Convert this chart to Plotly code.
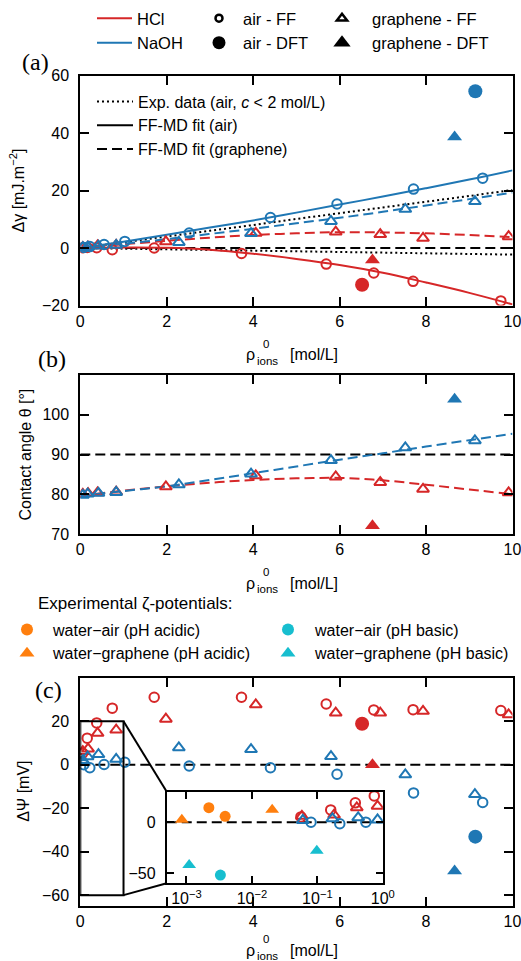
import plotly.graph_objects as go
import math

W, H = 521, 961
RED, BLUE, ORANGE, CYAN, BLACK = '#d62728', '#1f77b4', '#ff7f0e', '#17becf', '#000000'
SANS = 'Liberation Sans, Arial, Helvetica, sans-serif'
SERIF = 'Liberation Serif, Times New Roman, serif'

# ---------------- axes ----------------
X_RANGE = [0, 10]
X_TICKS = [0, 2, 4, 6, 8, 10]
A_RANGE, A_TICKS = [-20, 60], [-20, 0, 20, 40, 60]
B_RANGE, B_TICKS = [70, 110], [70, 80, 90, 100]
C_RANGE, C_TICKS = [-65, 40], [-60, -40, -20, 0, 20]
IN_X_RANGE = [5e-4, 1.0]
IN_Y_RANGE = [-60, 30]
IN_X_TICKS = [1e-3, 1e-2, 1e-1, 1.0]
IN_X_TICKTEXT = ['10<sup>−3</sup>', '10<sup>−2</sup>', '10<sup>−1</sup>', '10<sup>0</sup>']
IN_Y_TICKS = [-50, 0]
ZOOM_X = [0, 1]
ZOOM_Y = [-60, 20]
INSET_FRAC_X = [0.2, 0.7]
INSET_FRAC_Y = [0.1, 0.5]

# ---------------- FF-MD concentrations ----------------
hcl_air_x = [0.056, 0.16, 0.38, 0.74, 1.71, 3.73, 5.69, 6.79, 7.70, 9.73]
hcl_gr_x = [0.058, 0.18, 0.40, 0.83, 1.98, 4.06, 5.91, 6.94, 7.93, 9.91]
naoh_air_x = [0.08, 0.22, 0.55, 1.03, 2.52, 4.40, 5.94, 7.71, 9.31]
naoh_gr_x = [0.06, 0.17, 0.42, 0.83, 2.28, 3.95, 5.80, 7.52, 9.13]

# (a) surface tension change
a_hcl_air = [0.1, 0.2, 0.1, -0.6, 0.0, -1.9, -5.6, -8.7, -11.6, -18.4]
a_hcl_gr = [0.2, 0.4, 0.8, 1.0, 2.2, 5.2, 5.6, 4.7, 3.4, 4.0]
a_naoh_air = [0.2, 0.5, 1.2, 2.3, 5.2, 10.6, 15.3, 20.5, 24.3]
a_naoh_gr = [0.2, 0.4, 0.7, 1.0, 2.0, 5.1, 9.3, 13.5, 16.2]
# (b) contact angle
b_hcl_gr = [80.0, 80.2, 80.4, 80.6, 81.9, 84.7, 84.4, 83.0, 81.3, 80.4]
b_naoh_gr = [79.8, 80.1, 80.3, 80.5, 82.4, 85.1, 88.5, 91.7, 93.5]
# (c) potential
c_hcl_air = [5.3, 12.2, 19.2, 26.0, 31.0, 31.0, 27.9, 25.2, 25.3, 24.9]
c_hcl_gr = [6.1, 7.3, 14.5, 16.0, 21.0, 27.6, 23.8, 23.8, 24.6, 23.0]
c_naoh_air = [0.0, -1.4, 0.1, 1.1, -0.6, -1.4, -4.4, -13.0, -17.4]
c_naoh_gr = [2.0, 3.7, 4.7, 2.5, 7.8, 7.0, 3.8, -4.6, -13.7]

# ---------------- DFT ----------------
hcl_dft_air_x, hcl_dft_gr_x = [6.52], [6.76]
naoh_dft_air_x, naoh_dft_gr_x = [9.14], [8.66]
a_hcl_dft_air, a_hcl_dft_gr = [-12.8], [-4.2]
a_naoh_dft_air, a_naoh_dft_gr = [54.5], [38.6]
b_hcl_dft_gr, b_naoh_dft_gr = [72.1], [103.9]
c_hcl_dft_air, c_hcl_dft_gr = [18.8], [0.0]
c_naoh_dft_air, c_naoh_dft_gr = [-33.1], [-48.9]

# ---------------- fits / experimental curves ----------------
fit_x = [0, 1, 2, 3, 4, 5, 6, 7, 8, 9, 10]
a_fit_hcl_air = [0, 0.2, 0.1, -0.6, -2.0, -3.8, -5.9, -8.6, -12.0, -15.6, -19.6]
a_fit_hcl_gr = [0, 1.3, 2.5, 3.6, 4.5, 5.1, 5.5, 5.4, 5.1, 4.5, 3.8]
a_fit_naoh_air = [0, 2.2, 4.6, 7.1, 9.6, 12.3, 15.1, 17.9, 20.8, 23.8, 27.0]
a_fit_naoh_gr = [0, 1.5, 3.1, 4.9, 6.7, 8.6, 10.5, 12.6, 14.8, 17.0, 19.3]
a_exp_naoh = [0, 2.0, 4.0, 6.0, 8.0, 10.1, 12.1, 14.1, 16.1, 18.1, 20.2]
a_exp_hcl = [0, -0.23, -0.46, -0.69, -0.92, -1.15, -1.38, -1.61, -1.84, -2.07, -2.3]
b_fit_hcl_gr = [79.6, 80.9, 82.0, 82.9, 83.6, 84.0, 84.1, 83.5, 82.4, 81.2, 80.0]
b_fit_naoh_gr = [79.6, 80.8, 82.0, 83.6, 85.3, 87.0, 88.7, 90.3, 92.0, 93.6, 95.2]
A_REF, B_REF, C_REF = 0, 90, 0

# ---------------- experimental zeta potentials (inset) ----------------
zeta_air_acid_x, zeta_air_acid_y = [2.2e-3, 3.9e-3], [14.4, 5.9]
zeta_gr_acid_x, zeta_gr_acid_y = [8.5e-4, 2.04e-2], [2.6, 12.4]
zeta_air_base_x, zeta_air_base_y = [3.3e-3], [-52.0]
zeta_gr_base_x, zeta_gr_base_y = [1.1e-3, 9.8e-2], [-42.0, -28.0]

# ---------------- layout geometry ----------------
def ydom(top_px, bot_px):
    return [1 - bot_px / H, 1 - top_px / H]

XDOM = [80.3 / W, 512.5 / W]
A_DOM = ydom(75.5, 305.5)
B_DOM = ydom(375, 534)
C_DOM = ydom(677.7, 906)
xw = XDOM[1] - XDOM[0]
ch = C_DOM[1] - C_DOM[0]
IN_XDOM = [XDOM[0] + INSET_FRAC_X[0] * xw, XDOM[0] + INSET_FRAC_X[1] * xw]
IN_YDOM = [C_DOM[0] + INSET_FRAC_Y[0] * ch, C_DOM[0] + INSET_FRAC_Y[1] * ch]

fig = go.Figure()

DASH = '10px,5px'
DOT = '2px,3px'


def add_line(x, y, color, dash, xa, ya):
    fig.add_trace(go.Scatter(x=x, y=y, mode='lines', xaxis=xa, yaxis=ya, showlegend=False,
                             hoverinfo='skip', line=dict(color=color, width=2, dash=dash, shape='spline')))


def add_pts(x, y, color, symbol, size, xa, ya, lw=2):
    fig.add_trace(go.Scatter(x=x, y=y, mode='markers', xaxis=xa, yaxis=ya, showlegend=False,
                             hoverinfo='skip',
                             marker=dict(symbol=symbol, size=size, color=color,
                                         line=dict(width=lw if symbol.endswith('open') else 0, color=color))))

OC, OT, FC, FT = 9.5, 10.5, 14, 13

# ---- panel (a) ----
add_line(X_RANGE, [A_REF, A_REF], BLACK, DASH, 'x', 'y')
add_line(fit_x, a_exp_naoh, BLACK, DOT, 'x', 'y')
add_line(fit_x, a_exp_hcl, BLACK, DOT, 'x', 'y')
add_line(fit_x, a_fit_hcl_air, RED, 'solid', 'x', 'y')
add_line(fit_x, a_fit_naoh_air, BLUE, 'solid', 'x', 'y')
add_line(fit_x, a_fit_hcl_gr, RED, DASH, 'x', 'y')
add_line(fit_x, a_fit_naoh_gr, BLUE, DASH, 'x', 'y')
add_pts(hcl_air_x, a_hcl_air, RED, 'circle-open', OC, 'x', 'y')
add_pts(hcl_gr_x, a_hcl_gr, RED, 'triangle-up-open', OT, 'x', 'y')
add_pts(naoh_air_x, a_naoh_air, BLUE, 'circle-open', OC, 'x', 'y')
add_pts(naoh_gr_x, a_naoh_gr, BLUE, 'triangle-up-open', OT, 'x', 'y')
add_pts(hcl_dft_air_x, a_hcl_dft_air, RED, 'circle', FC, 'x', 'y')
add_pts(hcl_dft_gr_x, a_hcl_dft_gr, RED, 'triangle-up', FT, 'x', 'y')
add_pts(naoh_dft_air_x, a_naoh_dft_air, BLUE, 'circle', FC, 'x', 'y')
add_pts(naoh_dft_gr_x, a_naoh_dft_gr, BLUE, 'triangle-up', FT, 'x', 'y')

# ---- panel (b) ----
add_line(X_RANGE, [B_REF, B_REF], BLACK, DASH, 'x2', 'y2')
add_line(fit_x, b_fit_hcl_gr, RED, DASH, 'x2', 'y2')
add_line(fit_x, b_fit_naoh_gr, BLUE, DASH, 'x2', 'y2')
add_pts(hcl_gr_x, b_hcl_gr, RED, 'triangle-up-open', OT, 'x2', 'y2')
add_pts(naoh_gr_x, b_naoh_gr, BLUE, 'triangle-up-open', OT, 'x2', 'y2')
add_pts(hcl_dft_gr_x, b_hcl_dft_gr, RED, 'triangle-up', FT, 'x2', 'y2')
add_pts(naoh_dft_gr_x, b_naoh_dft_gr, BLUE, 'triangle-up', FT, 'x2', 'y2')

# ---- panel (c) ----
add_line(X_RANGE, [C_REF, C_REF], BLACK, DASH, 'x3', 'y3')
add_pts(hcl_air_x, c_hcl_air, RED, 'circle-open', OC, 'x3', 'y3')
add_pts(hcl_gr_x, c_hcl_gr, RED, 'triangle-up-open', OT, 'x3', 'y3')
add_pts(naoh_air_x, c_naoh_air, BLUE, 'circle-open', OC, 'x3', 'y3')
add_pts(naoh_gr_x, c_naoh_gr, BLUE, 'triangle-up-open', OT, 'x3', 'y3')
add_pts(hcl_dft_air_x, c_hcl_dft_air, RED, 'circle', FC, 'x3', 'y3')
add_pts(hcl_dft_gr_x, c_hcl_dft_gr, RED, 'triangle-up', FT, 'x3', 'y3')
add_pts(naoh_dft_air_x, c_naoh_dft_air, BLUE, 'circle', FC, 'x3', 'y3')
add_pts(naoh_dft_gr_x, c_naoh_dft_gr, BLUE, 'triangle-up', FT, 'x3', 'y3')

# ---- inset (log scale, low concentrations) ----
def low(xs, ys):
    sel = [(a, b) for a, b in zip(xs, ys) if a <= IN_X_RANGE[1]]
    return [a for a, _ in sel], [b for _, b in sel]

add_line(IN_X_RANGE, [C_REF, C_REF], BLACK, DASH, 'x4', 'y4')
add_pts(*low(hcl_air_x, c_hcl_air), RED, 'circle-open', OC, 'x4', 'y4')
add_pts(*low(hcl_gr_x, c_hcl_gr), RED, 'triangle-up-open', OT, 'x4', 'y4')
add_pts(*low(naoh_air_x, c_naoh_air), BLUE, 'circle-open', OC, 'x4', 'y4')
add_pts(*low(naoh_gr_x, c_naoh_gr), BLUE, 'triangle-up-open', OT, 'x4', 'y4')
add_pts(zeta_air_acid_x, zeta_air_acid_y, ORANGE, 'circle', 11, 'x4', 'y4')
add_pts(zeta_gr_acid_x, zeta_gr_acid_y, ORANGE, 'triangle-up', 12, 'x4', 'y4')
add_pts(zeta_air_base_x, zeta_air_base_y, CYAN, 'circle', 11, 'x4', 'y4')
add_pts(zeta_gr_base_x, zeta_gr_base_y, CYAN, 'triangle-up', 12, 'x4', 'y4')

# ---------------- legend-only entries ----------------
def leg_line(name, color, dash, legend):
    fig.add_trace(go.Scatter(x=[None], y=[None], mode='lines', name=name, legend=legend,
                             line=dict(color=color, width=2, dash=dash), hoverinfo='skip'))


def leg_mark(name, color, symbol, size, legend, lw=2.5):
    fig.add_trace(go.Scatter(x=[None], y=[None], mode='markers', name=name, legend=legend,
                             marker=dict(symbol=symbol, size=size, color=color,
                                         line=dict(width=lw if symbol.endswith('open') else 0, color=color)),
                             hoverinfo='skip'))

leg_line('HCl', RED, 'solid', 'legend')
leg_line('NaOH', BLUE, 'solid', 'legend')
leg_mark('air - FF', BLACK, 'circle-open', 7, 'legend2')
leg_mark('air - DFT', BLACK, 'circle', 13, 'legend2')
leg_mark('graphene - FF', BLACK, 'triangle-up-open', 9, 'legend3')
leg_mark('graphene - DFT', BLACK, 'triangle-up', 15, 'legend3')
leg_line('Exp. data (air, <i>c</i> &lt; 2 mol/L)', BLACK, DOT, 'legend4')
leg_line('FF-MD fit (air)', BLACK, 'solid', 'legend4')
leg_line('FF-MD fit (graphene)', BLACK, DASH, 'legend4')
leg_mark('water−air (pH acidic)', ORANGE, 'circle', 12, 'legend5')
leg_mark('water−graphene (pH acidic)', ORANGE, 'triangle-up', 13, 'legend5')
leg_mark('water−air (pH basic)', CYAN, 'circle', 12, 'legend6')
leg_mark('water−graphene (pH basic)', CYAN, 'triangle-up', 13, 'legend6')


def legend(x_px, top_px, itemwidth, size=16.5):
    return dict(x=x_px / W, y=1 - top_px / H, xanchor='left', yanchor='top', orientation='v',
                bgcolor='rgba(0,0,0,0)', borderwidth=0, itemwidth=itemwidth, tracegroupgap=0,
                font=dict(family=SANS, size=size, color='black'), itemclick=False, itemdoubleclick=False)


def axis(dom, rng, ticks, anchor, **kw):
    d = dict(domain=dom, range=rng, tickvals=ticks, anchor=anchor, showline=True, linewidth=2,
             linecolor='black', mirror='allticks', ticks='inside', ticklen=9, tickwidth=1.5,
             tickcolor='black', showgrid=False, zeroline=False, fixedrange=True,
             ticklabeloverflow='allow',
             tickfont=dict(family=SANS, size=16, color='black'))
    d.update(kw)
    return d


# ---------------- annotations ----------------
anns = []
for lab, xpx, ypx in [('(a)', 20, 62), ('(b)', 36, 359), ('(c)', 33, 690)]:
    anns.append(dict(text=lab, x=xpx / W, y=1 - ypx / H, xref='paper', yref='paper', xanchor='left',
                     yanchor='middle', showarrow=False, font=dict(family=SERIF, size=24, color='black')))

for ax, off in [('', -49), ('2', -49), ('3', -44)]:
    base = dict(xref=f'x{ax} domain', yref=f'y{ax} domain', x=0.5, y=0, showarrow=False,
                yanchor='middle', font=dict(family=SANS, size=16, color='black'))
    small = dict(family=SANS, size=11.5, color='black')
    anns += [
        dict(base, text='ρ', xanchor='right', xshift=-39, yshift=off),
        dict(base, text='0', xanchor='left', xshift=-35, yshift=off + 11, font=small),
        dict(base, text='ions', xanchor='left', xshift=-41, yshift=off - 6, font=small),
        dict(base, text='[mol/L]', xanchor='left', xshift=-8, yshift=off),
    ]

for text, xpx, ax in [('Δγ [mJ.m<sup>−2</sup>]', 17, ''), ('Contact angle θ [°]', 25, '2'),
                      ('ΔΨ [mV]', 24, '3')]:
    anns.append(dict(text=text, textangle=-90, x=xpx / W, xref='paper', y=0.5, yref=f'y{ax} domain',
                     xanchor='center', yanchor='middle', showarrow=False,
                     font=dict(family=SANS, size=16, color='black')))

anns.append(dict(text='Experimental ζ-potentials:', x=36 / W, y=1 - 603 / H, xref='paper', yref='paper',
                 xanchor='left', yanchor='middle', showarrow=False,
                 font=dict(family=SANS, size=17, color='black')))

# ---------------- zoom indicator shapes ----------------
in_left = X_RANGE[0] + INSET_FRAC_X[0] * (X_RANGE[1] - X_RANGE[0])
in_top = C_RANGE[0] + INSET_FRAC_Y[1] * (C_RANGE[1] - C_RANGE[0])
in_bot = C_RANGE[0] + INSET_FRAC_Y[0] * (C_RANGE[1] - C_RANGE[0])
shapes = [
    dict(type='rect', xref='x3', yref='y3', x0=ZOOM_X[0], x1=ZOOM_X[1], y0=ZOOM_Y[0], y1=ZOOM_Y[1],
         line=dict(color='black', width=2)),
    dict(type='line', xref='x3', yref='y3', x0=ZOOM_X[1], y0=ZOOM_Y[1], x1=in_left, y1=in_top,
         line=dict(color='black', width=2)),
    dict(type='line', xref='x3', yref='y3', x0=ZOOM_X[1], y0=ZOOM_Y[0], x1=in_left, y1=in_bot,
         line=dict(color='black', width=2)),
]

fig.update_layout(
    width=W, height=H, margin=dict(l=0, r=0, t=0, b=0, autoexpand=False), autosize=False,
    paper_bgcolor='white', plot_bgcolor='white', showlegend=True,
    xaxis=axis(XDOM, X_RANGE, X_TICKS, 'y'),
    yaxis=axis(A_DOM, A_RANGE, A_TICKS, 'x', ticklabelstandoff=6),
    xaxis2=axis(XDOM, X_RANGE, X_TICKS, 'y2'),
    yaxis2=axis(B_DOM, B_RANGE, B_TICKS, 'x2', ticklabelstandoff=6),
    xaxis3=axis(XDOM, X_RANGE, X_TICKS, 'y3'),
    yaxis3=axis(C_DOM, C_RANGE, C_TICKS, 'x3', ticklabelstandoff=6),
    xaxis4=axis(IN_XDOM, [math.log10(v) for v in IN_X_RANGE], IN_X_TICKS, 'y4', type='log',
                ticktext=IN_X_TICKTEXT, ticklen=7),
    yaxis4=axis(IN_YDOM, IN_Y_RANGE, IN_Y_TICKS, 'x4', ticklen=7, ticklabelstandoff=6),
    legend=legend(92, 1, 35),
    legend2=legend(195, 1, 38),
    legend3=legend(312, 1, 50),
    legend4=legend(92, 84.5, 36, 16),
    legend5=legend(1, 612.5, 42, 16),
    legend6=legend(261, 612.5, 44, 16),
    annotations=anns,
    shapes=shapes,
)

fig.write_html('out.html', config={'displayModeBar': False, 'staticPlot': False},
               post_script="document.body.style.margin='0px';")
